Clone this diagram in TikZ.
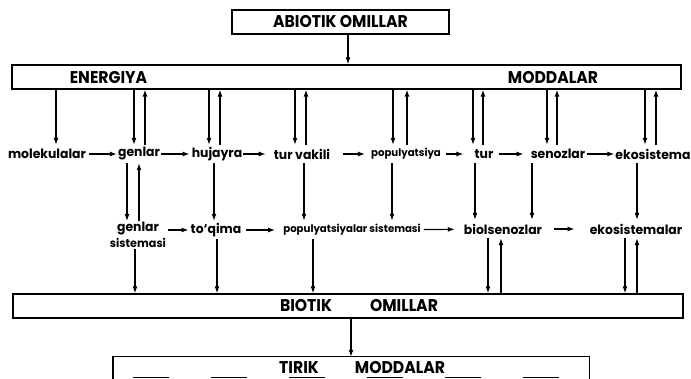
\documentclass[tikz,border=0pt]{standalone}
\usepackage{fontspec}
\setmainfont{Poppins}
\newfontfamily\capf[FakeStretch=0.92]{Poppins}
\newfontfamily\labf[FakeStretch=0.97]{Poppins}
\usetikzlibrary{arrows.meta}
\begin{document}
\begin{tikzpicture}[x=1pt,y=-1pt,
  arr/.style={line width=1.2pt,-{Latex[length=7pt,width=5pt]}},
  bar/.style={draw,line width=1.4pt,minimum height=24pt,inner sep=0pt},
  captxt/.style={font=\capf\bfseries\fontsize{17}{17}\selectfont,inner sep=0pt},
  lab/.style={font=\labf\bfseries\fontsize{12.8}{16}\selectfont,minimum height=18pt,inner sep=1pt},
  sml/.style={lab,font=\labf\bfseries\fontsize{10.5}{12}\selectfont}]
\useasboundingbox (0,0) rectangle (691,379);
% boxes
\node[bar,captxt,minimum width=217pt,minimum height=24pt] (abiotik) at (340.5,22) {ABIOTIK OMILLAR};
\node[bar,minimum width=669pt] (bar1) at (346.5,77) {};
\node[captxt] (energ) at (108.5,78) {ENERGIYA};
\node[captxt] (modd) at (553,78) {MODDALAR};
\node[bar,minimum width=670pt] (bar2) at (348,306) {};
\node[captxt] (biot) at (306,306) {BIOTIK};
\node[captxt] (omil) at (404,306) {OMILLAR};
\node[minimum width=476pt,minimum height=22pt,inner sep=0pt] (tirik) at (351,368) {};
\draw[line width=1.4pt] (tirik.south west) -- (tirik.north west) -- (tirik.north east) -- (tirik.south east);
\draw[line width=1.2pt,dash pattern=on 36pt off 42pt] ([xshift=20pt,yshift=2pt]tirik.south west) -- ([xshift=-20pt,yshift=2pt]tirik.south east);
\node[captxt] (tirt) at (299,368) {TIRIK};
\node[captxt] (moddb) at (400,368) {MODDALAR};
% row 1
\node[lab] (molek) at (47,154) {molekulalar};
\node[lab] (gen) at (139,154) {genlar};
\node[lab] (huj) at (217,154) {hujayra};
\node[lab] (turv) at (302,154) {tur vakili};
\node[sml] (pop) at (406,154) {populyatsiya};
\node[lab] (tur) at (484,154) {tur};
\node[lab] (sen) at (558,154) {senozlar};
\node[lab] (eko) at (653,154) {ekosistema};
% row 2
\node[lab,align=center,anchor=north] (gsis) at (138,221) {genlar\\{\fontsize{11.5}{11.5}\selectfont sistemasi}};
\node[lab] (toq) at (216,230) {to‘qima};
\node[sml] (popsis) at (352,230) {populyatsiyalar sistemasi};
\node[lab] (biol) at (503,229) {biolsenozlar};
\node[lab] (ekom) at (636,229) {ekosistemalar};
% abiotik -> bar1
\draw[arr] ([xshift=7.5pt]abiotik.south) -- ([xshift=7.5pt]abiotik.south |- bar1.north);
% bar1 <-> row 1
\draw[arr] ([xshift=9pt]molek.north |- bar1.south) -- ([xshift=9pt]molek.north);
\draw[arr] ([xshift=-5pt]gen.north |- bar1.south) -- ([xshift=-5pt]gen.north);
\draw[arr] ([xshift=6pt]gen.north) -- ([xshift=6pt]gen.north |- bar1.south);
\draw[arr] ([xshift=-8pt]huj.north |- bar1.south) -- ([xshift=-8pt]huj.north);
\draw[arr] ([xshift=3pt]huj.north) -- ([xshift=3pt]huj.north |- bar1.south);
\draw[arr] ([xshift=-7pt]turv.north |- bar1.south) -- ([xshift=-7pt]turv.north);
\draw[arr] ([xshift=4pt]turv.north) -- ([xshift=4pt]turv.north |- bar1.south);
\draw[arr] ([xshift=-13pt]pop.north |- bar1.south) -- ([xshift=-13pt]pop.north);
\draw[arr] ([xshift=1pt]pop.north) -- ([xshift=1pt]pop.north |- bar1.south);
\draw[arr] ([xshift=-11pt]tur.north |- bar1.south) -- ([xshift=-11pt]tur.north);
\draw[arr] ([xshift=-1pt]tur.north) -- ([xshift=-1pt]tur.north |- bar1.south);
\draw[arr] ([xshift=-11pt]sen.north |- bar1.south) -- ([xshift=-11pt]sen.north);
\draw[arr] ([xshift=-1pt]sen.north) -- ([xshift=-1pt]sen.north |- bar1.south);
\draw[arr] ([xshift=-8pt]eko.north |- bar1.south) -- ([xshift=-8pt]eko.north);
\draw[arr] ([xshift=3pt]eko.north) -- ([xshift=3pt]eko.north |- bar1.south);
% row 1 horizontal
\draw[arr,shorten <=2pt] (molek) -- (gen);
\draw[arr,shorten >=1pt] (gen) -- (huj);
\draw[arr,shorten >=7pt] (huj) -- (turv);
\draw[arr,shorten <=12pt,shorten >=5pt] (turv) -- (pop);
\draw[arr,shorten <=4pt,shorten >=10pt] (pop) -- (tur);
\draw[arr,shorten <=4pt,shorten >=6pt] (tur) -- (sen);
\draw[arr,shorten <=1pt,shorten >=0pt] (sen) -- (eko);
% row 1 -> row 2
\draw[arr] ([xshift=-12pt]gen.south) -- ([xshift=-12pt]gen.south |- gsis.north);
\draw[arr] ([xshift=0pt]gen.south |- gsis.north) -- ([xshift=0pt]gen.south);
\draw[arr] ([xshift=-3pt]huj.south) -- ([xshift=-3pt]huj.south |- toq.north);
\draw[arr] ([xshift=2pt]turv.south) -- ([xshift=2pt]turv.south |- popsis.north);
\draw[arr] ([xshift=-14pt]pop.south) -- ([xshift=-14pt]pop.south |- popsis.north);
\draw[arr] ([xshift=-9pt]tur.south) -- ([xshift=-9pt]tur.south |- biol.north);
\draw[arr] ([xshift=-26pt]sen.south) -- ([xshift=-26pt]sen.south |- biol.north);
\draw[arr] ([xshift=-16pt]eko.south) -- ([xshift=-16pt]eko.south |- ekom.north);
% row 2 horizontal
\draw[arr,shorten <=1pt,shorten >=1pt] (gsis.east |- toq) -- (toq);
\draw[arr,shorten <=4pt,shorten >=7pt] (toq) -- (popsis);
\draw[arr,shorten <=2pt,shorten >=8pt] (popsis) -- (biol);
\draw[arr,shorten <=11pt,shorten >=14pt] (biol) -- (ekom);
% row 2 <-> bar2
\draw[arr] ([xshift=-3pt]gsis.south) -- ([xshift=-3pt]gsis.south |- bar2.north);
\draw[arr] ([xshift=1pt]toq.south) -- ([xshift=1pt]toq.south |- bar2.north);
\draw[arr] ([xshift=-39pt]popsis.south) -- ([xshift=-39pt]popsis.south |- bar2.north);
\draw[arr] ([xshift=-15pt]biol.south) -- ([xshift=-15pt]biol.south |- bar2.north);
\draw[arr] ([xshift=-2pt]biol.south |- bar2.north) -- ([xshift=-2pt]biol.south);
\draw[arr] ([xshift=-11pt]ekom.south) -- ([xshift=-11pt]ekom.south |- bar2.north);
\draw[arr] ([xshift=1pt]ekom.south |- bar2.north) -- ([xshift=1pt]ekom.south);
% bar2 -> tirik
\draw[arr] ([xshift=3pt]bar2.south) -- ([xshift=3pt]bar2.south |- tirik.north);
\end{tikzpicture}
\end{document}
